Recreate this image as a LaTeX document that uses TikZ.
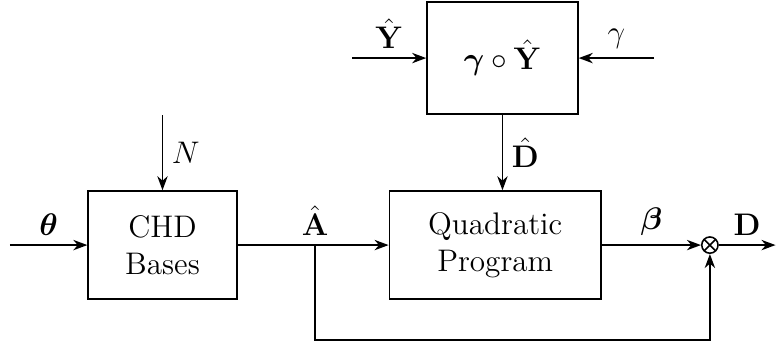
\documentclass[tikz,border=0pt]{standalone}
\usepackage{amsmath,amssymb,bm}
\usetikzlibrary{positioning,arrows.meta}
\begin{document}
\begin{tikzpicture}[
  font=\large,
  line width=0.6pt,
  blk/.style = {draw, align=center},
  sig/.style = {-{Stealth[length=1.9mm, width=1.4mm, inset=0.6mm]}},
  mult/.style = {draw, circle, inner sep=0pt, minimum size=0.22cm,
    path picture={
      \draw (path picture bounding box.north west) -- (path picture bounding box.south east);
      \draw (path picture bounding box.north east) -- (path picture bounding box.south west);}}
]
  \useasboundingbox (0,0) rectangle (10.5,4.69);
  % blocks
  \node[blk, minimum width=2.01cm, minimum height=1.46cm] (chd) at (2.196,1.378) {CHD\\Bases};
  \node[blk, minimum width=2.86cm, minimum height=1.46cm, right=2.04cm of chd] (qp) {Quadratic\\Program};
  \node[blk, minimum width=2.04cm, minimum height=1.51cm] (hada) at (6.79,3.905)
    {$\bm{\gamma}\circ\hat{\mathbf{Y}}$};
  \node[mult, right=1.34cm of qp] (prod) {};
  % free ends
  \coordinate (thin) at (0.135,1.378);
  \coordinate (nin) at (2.196,3.135);
  \coordinate (yin) at (4.757,3.905);
  \coordinate (gin) at (8.838,3.905);
  \coordinate (dout) at (10.48,1.378);
  \coordinate (split) at (4.257,1.378);
  \coordinate (low) at (4.257,0.095);
  % signals
  \draw[sig] (thin) -- (chd.west) node[midway, above] {$\bm{\theta}$};
  \draw[sig] (nin) -- (chd.north) node[midway, right] {$N$};
  \draw[sig] (chd.east) -- (qp.west);
  \node[above] at (split) {$\hat{\mathbf{A}}$};
  \draw[sig] (yin) -- (hada.west) node[midway, above] {$\hat{\mathbf{Y}}$};
  \draw[sig] (gin) -- (hada.east) node[midway, above] {$\gamma$};
  \draw[sig] (hada.south) -- (hada.south |- qp.north) node[midway, right] {$\hat{\mathbf{D}}$};
  \draw[sig] (qp.east) -- (prod.west) node[midway, above] {$\bm{\beta}$};
  \draw[sig] (prod.east) -- (dout) node[midway, above] {$\mathbf{D}$};
  \draw[sig] (split) -- (low) -| (prod.south);
\end{tikzpicture}
\end{document}
